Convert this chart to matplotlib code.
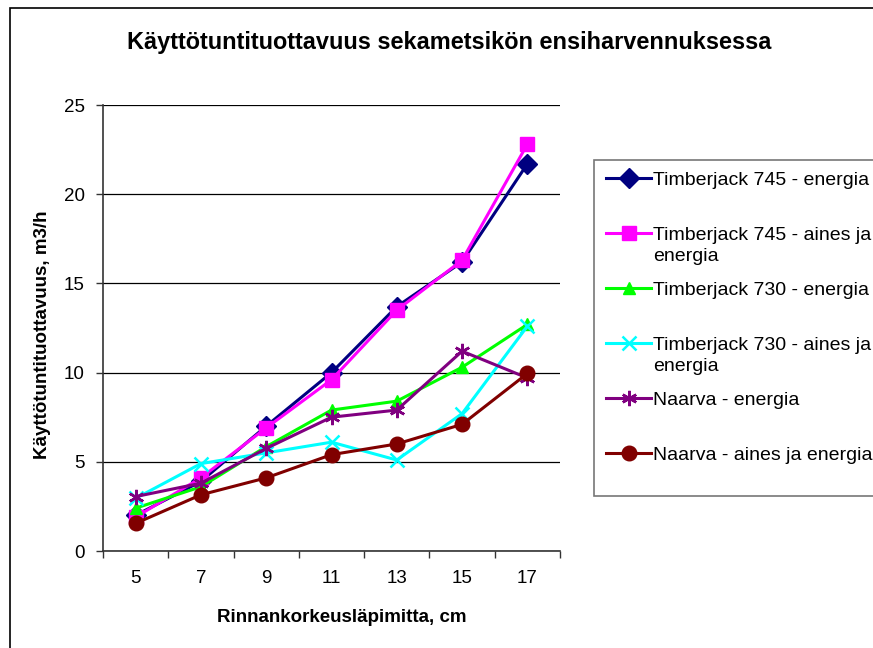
import matplotlib
matplotlib.use("Agg")
import matplotlib.pyplot as plt
from matplotlib.patches import Rectangle
from matplotlib.legend_handler import HandlerLine2D
import numpy as np

plt.rcParams['font.family'] = ['Liberation Sans', 'DejaVu Sans']

# data
diameters = ["5", "7", "9", "11", "13", "15", "17"]
tj745_energia = [2.0, 3.9, 7.0, 10.0, 13.7, 16.2, 21.7]
tj745_aines = [1.9, 4.1, 6.9, 9.6, 13.5, 16.3, 22.8]
tj730_energia = [2.4, 3.6, 5.85, 7.9, 8.4, 10.3, 12.7]
tj730_aines = [2.95, 4.9, 5.5, 6.1, 5.1, 7.7, 12.6]
naarva_energia = [3.05, 3.8, 5.75, 7.5, 7.9, 11.2, 9.7]
naarva_aines = [1.55, 3.15, 4.1, 5.4, 6.0, 7.1, 9.95]

series = [
    ("Timberjack 745 - energia\n", tj745_energia, '#000080', 'D', 10),
    ("Timberjack 745 - aines ja\nenergia", tj745_aines, '#FF00FF', 's', 10.5),
    ("Timberjack 730 - energia\n", tj730_energia, '#00FF00', '^', 8),
    ("Timberjack 730 - aines ja\nenergia", tj730_aines, '#00FFFF', 'x', 10),
    ("Naarva - energia\n", naarva_energia, '#800080', (6, 2, 0), 11),
    ("Naarva - aines ja energia\n", naarva_aines, '#800000', 'o', 10.5),
]


# legend handle sits on the first text line, as in Excel
class FirstLineHandler(HandlerLine2D):
    def create_artists(self, legend, orig_handle, xdescent, ydescent,
                       width, height, fontsize, trans):
        arts = super().create_artists(legend, orig_handle, xdescent, ydescent,
                                      width, height, fontsize, trans)
        for a in arts:
            a.set_ydata(np.asarray(a.get_ydata()) + 0.62 * fontsize)
        return arts


fig = plt.figure(figsize=(8.73, 6.48), dpi=100)
ax = fig.add_axes([103 / 873, 1 - 551 / 648, (560 - 103) / 873, (551 - 105) / 648])

x = np.arange(len(diameters))
lines = []
for label, vals, col, mk, ms in series:
    mew = 1.8 if mk == 'x' or isinstance(mk, tuple) else 1
    ln, = ax.plot(x, vals, color=col, lw=2.2, marker=mk, markersize=ms,
                  markeredgewidth=mew, markeredgecolor=col, label=label, clip_on=False)
    lines.append(ln)

ax.set_xlim(-0.5, len(diameters) - 0.5)
ax.set_ylim(0, 25)
ax.set_yticks([0, 5, 10, 15, 20, 25])
ax.yaxis.grid(True, color='black', lw=0.9)
ax.set_axisbelow(True)

ax.set_xticks(np.arange(-0.5, len(diameters), 1))
ax.set_xticklabels([])
ax.set_xticks(x, minor=True)
ax.set_xticklabels(diameters, minor=True)
ax.tick_params(axis='x', which='minor', length=0, pad=14, labelsize=13.5)
ax.tick_params(axis='x', which='major', length=5, width=1, color='#333333')
ax.tick_params(axis='y', length=5, width=1, color='#333333', labelsize=13.5, pad=8)

for s in ['top', 'right']:
    ax.spines[s].set_visible(False)
for s in ['left', 'bottom']:
    ax.spines[s].set_color('#333333')
    ax.spines[s].set_linewidth(1.2)

fig.text(342 / 873, 1 - 617 / 648, "Rinnankorkeusläpimitta, cm", ha='center', va='center',
         fontsize=13.5, fontweight='bold')
fig.text(43 / 873, 1 - 335 / 648, "Käyttötuntituottavuus, m3/h", ha='center', va='center',
         rotation=90, fontsize=13.5, fontweight='bold')
fig.text(449 / 873, 1 - 42 / 648, "Käyttötuntituottavuus sekametsikön ensiharvennuksessa",
         ha='center', va='center', fontsize=16.9, fontweight='bold')

leg = ax.legend(handles=lines, loc='upper left', bbox_to_anchor=(594 / 873, 1 - 160 / 648),
                bbox_transform=fig.transFigure, fontsize=14, frameon=True,
                fancybox=False, borderaxespad=0, borderpad=0.6, handlelength=2.35,
                handletextpad=0.08, labelspacing=0.88,
                handler_map={l: FirstLineHandler() for l in lines})
for t in leg.get_texts():
    t.set_linespacing(1.3)
leg.get_frame().set_edgecolor('#555555')
leg.get_frame().set_linewidth(1.2)

fig.patches.append(Rectangle((10 / 873, -0.05), 1.2, 1.05 - 8 / 648,
                             transform=fig.transFigure, fill=False,
                             edgecolor='black', lw=1.2))

fig.savefig("out.png", dpi=100)
